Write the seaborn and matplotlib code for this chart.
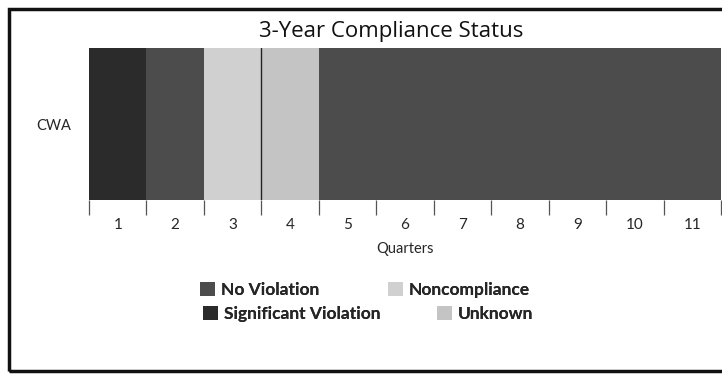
import matplotlib
matplotlib.use("Agg")
import matplotlib.pyplot as plt
from matplotlib.patches import Patch, Rectangle
import seaborn as sns
import pandas as pd

# Compliance status for each quarter of the CWA program
quarters = [1, 2, 3, 4, 5, 6, 7, 8, 9, 10, 11]
status = ["Significant Violation", "No Violation", "Noncompliance", "Unknown",
          "No Violation", "No Violation", "No Violation", "No Violation",
          "No Violation", "No Violation", "No Violation"]
program = "CWA"
legend_order = ["No Violation", "Noncompliance", "Significant Violation", "Unknown"]

palette = {
    "No Violation": "#4c4c4c",
    "Significant Violation": "#2b2b2b",
    "Noncompliance": "#d0d0d0",
    "Unknown": "#c4c4c4",
}
light = {"Noncompliance", "Unknown"}

df = pd.DataFrame({"quarter": quarters, "status": status})

sns.set_theme(style="white")
plt.rcParams["font.family"] = ["Lato", "DejaVu Sans"]

W, H = 722, 376
fig = plt.figure(figsize=(W / 100, H / 100), dpi=100)
ax = fig.add_axes([89 / W, 1 - 200 / H, (721 - 89) / W, (200 - 48) / H])

sns.histplot(data=df, x="quarter", hue="status", multiple="stack", discrete=True,
             shrink=1.0, palette=palette, alpha=1, linewidth=0, legend=False, ax=ax)

# thin divider between adjacent light cells
for i in range(1, len(quarters)):
    if status[i] in light and status[i - 1] in light:
        ax.axvline(quarters[i] - 0.5, color="#222222", lw=1.0)

ax.set_xlim(quarters[0] - 0.5, quarters[-1] + 0.5)
ax.set_ylim(0, 1)
ax.set_yticks([0.5])
ax.set_yticklabels([program], fontsize=10.5)
ax.set_ylabel("")
ax.tick_params(axis="y", length=0, pad=13)

ax.set_xticks(quarters)
ax.set_xticklabels([str(q) for q in quarters], fontsize=11)
ax.set_xticks([q - 0.5 for q in quarters] + [quarters[-1] + 0.5], minor=True)
ax.tick_params(axis="x", which="major", length=0, pad=13)
ax.tick_params(axis="x", which="minor", bottom=True, length=11, width=0.9,
               color="#555555", direction="out")
ax.set_xlabel("Quarters", fontsize=10.5, labelpad=7)
for s in ax.spines.values():
    s.set_visible(False)

fig.text(391 / W, 1 - 31 / H, "3-Year Compliance Status", ha="center", va="center",
         fontsize=16, fontfamily="Open Sans", fontweight="medium", color="#111111")

# outer frame
fig.add_artist(Rectangle((9 / W, 1 - 371 / H), 1.2, (371 - 9) / H,
                         transform=fig.transFigure, fill=False, lw=2.5,
                         edgecolor="#111111"))

# legend entries, laid out in two rows
entry_pos = {
    "No Violation": (200, 290),
    "Noncompliance": (388, 290),
    "Significant Violation": (203, 314),
    "Unknown": (437, 314),
}
for name in legend_order:
    x, y = entry_pos[name]
    leg = fig.legend(handles=[Patch(facecolor=palette[name], edgecolor="none", label=name)],
                     loc="center left", bbox_to_anchor=(x / W, 1 - y / H),
                     frameon=False, borderpad=0, borderaxespad=0,
                     handlelength=0.85, handleheight=0.85, handletextpad=0.35,
                     prop={"weight": "bold", "size": 12.5})
    fig.add_artist(leg)

fig.savefig("out.png", dpi=100)
